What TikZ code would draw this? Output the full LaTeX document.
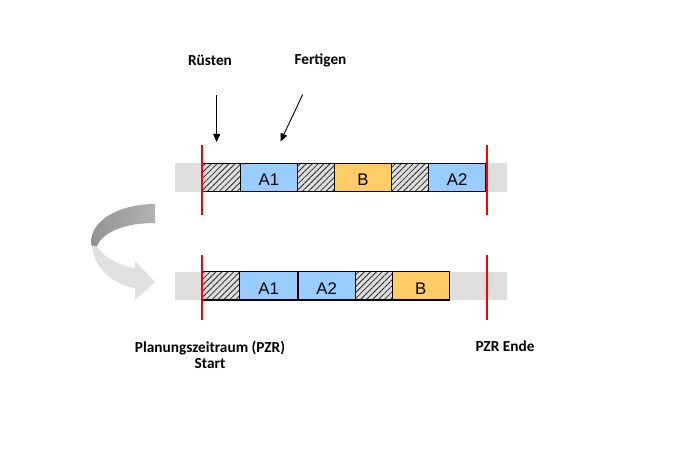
\documentclass[tikz,border=0pt]{standalone}
\usepackage{fontspec}
\setmainfont{Carlito}
\newfontfamily\arialf{Liberation Sans}
\usetikzlibrary{arrows.meta,patterns.meta}
\definecolor{segblue}{HTML}{99CCFF}
\definecolor{segorange}{HTML}{FFCC66}
\definecolor{bargrey}{HTML}{DEDEDE}
\definecolor{pzrred}{HTML}{FF0000}
\definecolor{arrlight}{HTML}{E0E0E0}
\tikzset{
  lbl/.style={font=\bfseries\fontsize{15.3}{16.7}\selectfont, inner sep=0pt},
  bgbar/.style={fill=bargrey, draw=none, minimum height=28.4pt, minimum width=331.7pt, inner sep=0pt, outer sep=0pt, anchor=west},
  seg/.style={draw=black, line width=1.2pt, minimum height=28.4pt, inner sep=0pt, outer sep=0pt, anchor=west,
              text height=17pt, text depth=0pt,
              font=\arialf\fontsize{16.8}{18}\selectfont},
  ablue/.style={seg, fill=segblue},
  borange/.style={seg, fill=segorange},
  hatch/.style={seg, pattern={Lines[angle=45,distance=4.2pt,line width=0.8pt]}, pattern color=black!85},
  redline/.style={draw=pzrred, line width=2pt},
  ptr/.style={draw=black, line width=0.9pt, -{Triangle[length=8pt,width=7pt]}}
}
\begin{document}
\begin{tikzpicture}[x=1pt,y=-1pt]
\fill[white] (0,0) rectangle (691,470);
\useasboundingbox (0,0) rectangle (691,470);

% curved arrow
\fill[arrlight] (92,244) .. controls (92,265) and (112,285) .. (135,288)
  -- (135,300) -- (155,282) -- (135,261) -- (135,268)
  .. controls (118,266) and (101,255) .. (97,246) -- cycle;
\shade[left color=black!42, right color=black!30] (155,204) .. controls (120,204) and (91,220) .. (91,242)
  -- (92,246) -- (97,246) .. controls (103,232) and (125,223) .. (155,223) -- cycle;

% top bar
\node[bgbar] (tbg) at (175,177.5) {};
\node[hatch,   minimum width=38pt]   (th1) at (202.3,177.5) {};
\node[ablue,   minimum width=57.4pt] (ta1) at (th1.east) {A1};
\node[hatch,   minimum width=36.6pt] (th2) at (ta1.east) {};
\node[borange, minimum width=57.4pt] (tb)  at (th2.east) {B};
\node[hatch,   minimum width=36.6pt] (th3) at (tb.east) {};
\node[ablue,   minimum width=57.7pt] (ta2) at (th3.east) {A2};

% bottom bar
\node[bgbar] (bbg) at (175,285.8) {};
\node[hatch,   minimum width=37.4pt] (bh1) at (202,285.8) {};
\node[ablue,   minimum width=58.6pt] (ba1) at (bh1.east) {A1};
\node[ablue,   minimum width=57.3pt] (ba2) at (ba1.east) {A2};
\node[hatch,   minimum width=37pt]   (bh2) at (ba2.east) {};
\node[borange, minimum width=57pt]   (bb)  at (bh2.east) {B};

% red PZR lines
\coordinate (tls) at (202,145); \coordinate (tle) at (202,215);
\coordinate (trs) at (487,145); \coordinate (tre) at (487,215);
\coordinate (bls) at (202,255); \coordinate (ble) at (202,320);
\coordinate (brs) at (487,255); \coordinate (bre) at (487,320);
\draw[redline] (tls) -- (tle);
\draw[redline] (trs) -- (tre);
\draw[redline] (bls) -- (ble);
\draw[redline] (brs) -- (bre);

% labels
\node[lbl] (ruesten) at (210,60.7) {Rüsten};
\node[lbl] (fertigen) at (320.5,60.7) {Fertigen};
\coordinate (rs) at (216.7,95);  \coordinate (rt) at (216.7,142);
\coordinate (fs) at (302.7,94.5); \coordinate (ft) at (280.5,141.5);
\draw[ptr] (rs) -- (rt);
\draw[ptr] (fs) -- (ft);

\node[lbl, align=center] (pzr) at (210,355) {Planungszeitraum (PZR)\\Start};
\node[lbl] (ende) at (505,346.5) {PZR Ende};
\end{tikzpicture}
\end{document}
